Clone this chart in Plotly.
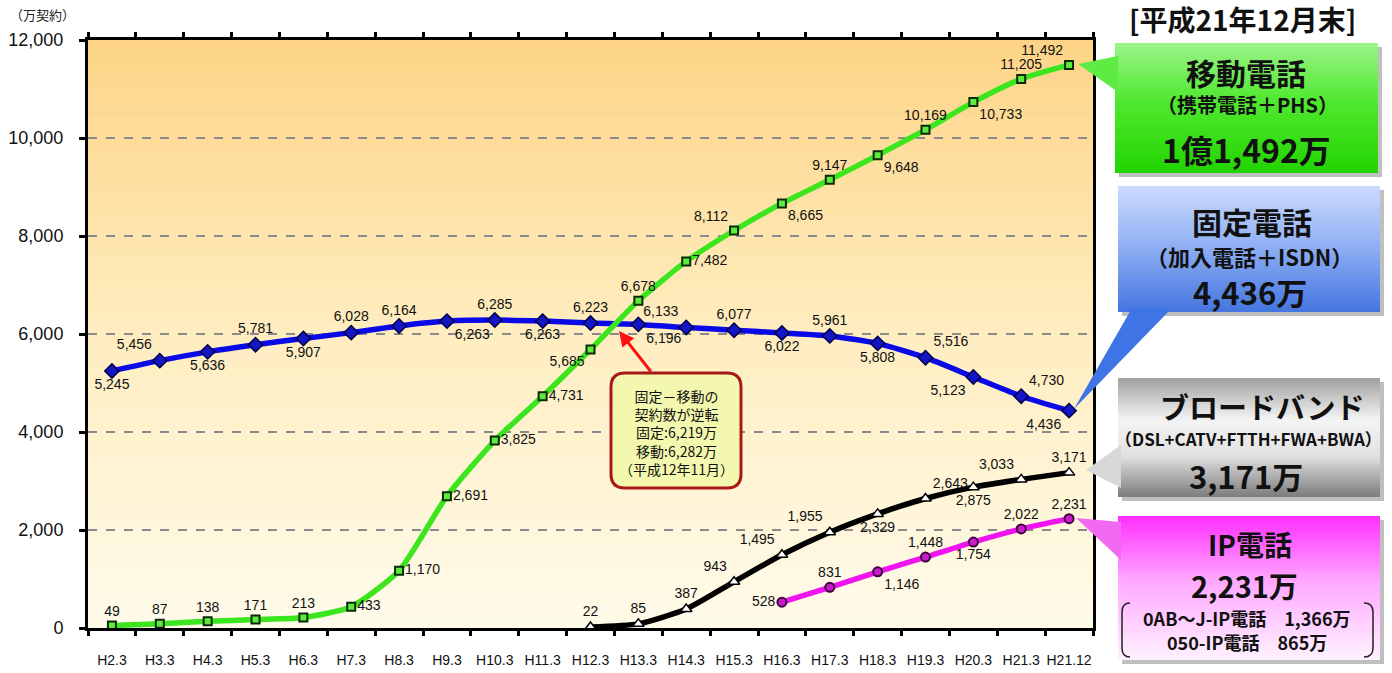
import plotly.graph_objects as go

# ---------------- data ----------------
categories = ["H2.3", "H3.3", "H4.3", "H5.3", "H6.3", "H7.3", "H8.3", "H9.3", "H10.3",
              "H11.3", "H12.3", "H13.3", "H14.3", "H15.3", "H16.3", "H17.3", "H18.3",
              "H19.3", "H20.3", "H21.3", "H21.12"]
mobile = [49, 87, 138, 171, 213, 433, 1170, 2691, 3825, 4731, 5685, 6678, 7482, 8112,
          8665, 9147, 9648, 10169, 10733, 11205, 11492]
fixed = [5245, 5456, 5636, 5781, 5907, 6028, 6164, 6263, 6285, 6263, 6223, 6196, 6133,
         6077, 6022, 5961, 5808, 5516, 5123, 4730, 4436]
broadband = [None] * 10 + [22, 85, 387, 943, 1495, 1955, 2329, 2643, 2875, 3033, 3171]
ip_phone = [None] * 14 + [528, 831, 1146, 1448, 1754, 2022, 2231]
y_ticks = [0, 2000, 4000, 6000, 8000, 10000, 12000]

# ---------------- label placement (style) ----------------
mobile_pos = ["top center"] * 5 + ["middle right"] * 5 + ["bottom left", "top center",
              "middle right", "top left", "bottom right", "top center", "bottom right",
              "top center", "bottom right", "top center", "top left"]
fixed_pos = ["bottom center", "top left", "bottom center", "top center", "bottom center",
             "top center", "top center", "bottom right", "top center", "bottom center",
             "top center", "bottom right", "top left", "top center", "bottom center",
             "top center", "bottom center", "top right", "bottom left", "top right",
             "bottom left"]
bb_pos = ["top center"] * 10 + ["top center", "top center", "top center", "top left",
          "top left", "top left", "bottom center", "top right", "bottom center",
          "top left", "top center"]
ip_pos = ["top center"] * 14 + ["middle left", "top center", "bottom right", "top center",
          "bottom center", "top center", "top center"]

W, H = 1392, 673
PL, PR, PT, PB = 88, 1093, 40, 628   # plot area in pixels

JP = "Noto Sans CJK JP, sans-serif"
NUM = "Liberation Sans, Arial, sans-serif"


def px(x):
    return (x - PL) / (PR - PL)


def py(y):
    return (PB - y) / (PB - PT)


def hex2rgb(h):
    h = h.lstrip("#")
    return tuple(int(h[i:i + 2], 16) for i in (0, 2, 4))


def interp(stops, t):
    for i in range(len(stops) - 1):
        t0, c0 = stops[i]
        t1, c1 = stops[i + 1]
        if t0 <= t <= t1:
            f = 0 if t1 == t0 else (t - t0) / (t1 - t0)
            a, b = hex2rgb(c0), hex2rgb(c1)
            return "rgb(%d,%d,%d)" % tuple(round(a[k] + (b[k] - a[k]) * f) for k in range(3))
    return stops[-1][1]


shapes = []


def grad_rect(x0, y0, x1, y1, stops, n, layer="above"):
    for i in range(n):
        ya = y0 + (y1 - y0) * i / n
        yb = y0 + (y1 - y0) * (i + 1) / n + 0.6
        shapes.append(dict(type="rect", xref="paper", yref="paper", layer=layer,
                           x0=px(x0), x1=px(x1), y0=py(min(yb, y1)), y1=py(ya),
                           line=dict(width=0), fillcolor=interp(stops, (i + 0.5) / n)))


def path_px(points_cmds):
    s = ""
    for cmd, pts in points_cmds:
        s += cmd
        s += " ".join("%.5f,%.5f" % (px(x), py(y)) for x, y in pts) + " "
    return s.strip()


def rrect_path(x0, y0, x1, y1, r):
    return path_px([
        ("M", [(x0 + r, y0)]), ("L", [(x1 - r, y0)]), ("Q", [(x1, y0), (x1, y0 + r)]),
        ("L", [(x1, y1 - r)]), ("Q", [(x1, y1), (x1 - r, y1)]), ("L", [(x0 + r, y1)]),
        ("Q", [(x0, y1), (x0, y1 - r)]), ("L", [(x0, y0 + r)]), ("Q", [(x0, y0), (x0 + r, y0)])
    ]) + " Z"


def tri(p1, p2, p3, color, layer="above"):
    shapes.append(dict(type="path", xref="paper", yref="paper", layer=layer,
                       path=path_px([("M", [p1]), ("L", [p2]), ("L", [p3])]) + " Z",
                       fillcolor=color, line=dict(width=0)))


# plot background gradient
grad_rect(PL, PT, PR, PB, [(0, "#FDD486"), (0.5, "#FFEDC0"), (1, "#FFFBEA")], 70, layer="below")

# ---------------- traces ----------------
fig = go.Figure()
fig.add_trace(go.Scatter(
    x=categories, y=fixed, mode="lines+markers+text", name="固定電話",
    line=dict(color="#0A0AE6", width=5.5, shape="spline", smoothing=0.6),
    marker=dict(symbol="diamond", size=11, color="#1515C8", line=dict(width=1.5, color="#000040")),
    texttemplate="%{y:,}", textposition=fixed_pos,
    textfont=dict(family=NUM, size=14, color="#111"), cliponaxis=False))
fig.add_trace(go.Scatter(
    x=categories, y=mobile, mode="lines+markers+text", name="移動電話",
    line=dict(color="#3CE61E", width=5.5, shape="spline", smoothing=0.6),
    marker=dict(symbol="square", size=8, color="#5EEB3C", line=dict(width=2, color="#0B2A0B")),
    texttemplate="%{y:,}", textposition=mobile_pos,
    textfont=dict(family=NUM, size=14, color="#111"), cliponaxis=False))
fig.add_trace(go.Scatter(
    x=categories, y=broadband, mode="lines+markers+text", name="ブロードバンド",
    line=dict(color="#000000", width=5.5, shape="spline", smoothing=0.6),
    marker=dict(symbol="triangle-up", size=10, color="white", line=dict(width=1.5, color="black")),
    texttemplate="%{y:,}", textposition=bb_pos,
    textfont=dict(family=NUM, size=14, color="#111"), cliponaxis=False))
fig.add_trace(go.Scatter(
    x=categories, y=ip_phone, mode="lines+markers+text", name="IP電話",
    line=dict(color="#F014F0", width=5.5, shape="spline", smoothing=0.6),
    marker=dict(symbol="circle", size=9, color="#C81EC8", line=dict(width=2, color="#400040")),
    texttemplate="%{y:,}", textposition=ip_pos,
    textfont=dict(family=NUM, size=14, color="#111"), cliponaxis=False))

annotations = []

# y-axis unit
annotations.append(dict(xref="paper", yref="paper", x=px(8), y=py(14), xanchor="left",
                        yanchor="middle", text="（万契約）", showarrow=False,
                        font=dict(family=JP, size=13, color="#222")))

# crossover note box
shapes.append(dict(type="path", xref="paper", yref="paper", layer="above",
                   path=rrect_path(611, 373, 741, 488, 14), fillcolor="#F3F8AE",
                   line=dict(color="#A81818", width=3)))
annotations.append(dict(xref="paper", yref="paper", x=px(619), y=py(331), ax=33, ay=42,
                        axref="pixel", ayref="pixel", text="", showarrow=True,
                        arrowhead=2, arrowsize=1, arrowwidth=3, arrowcolor="#FF1010"))
annotations.append(dict(xref="paper", yref="paper", x=px(676), y=py(432),
                        xanchor="center", yanchor="middle",
                        text="固定－移動の<br>契約数が逆転<br>固定:6,219万<br>移動:6,282万<br>（平成12年11月）",
                        showarrow=False, align="center",
                        font=dict(family=JP, size=14, color="#111")))

# title at right
annotations.append(dict(xref="paper", yref="paper", x=px(1242), y=py(19),
                        xanchor="center", yanchor="middle",
                        text="<b>[平成21年12月末]</b>", showarrow=False,
                        font=dict(family=JP, size=28, color="#111")))

# callout boxes: (x0, y0, x1, y1, stops, tail triangle, tail color)
boxes = [
    (1115, 43, 1378, 173, [(0, "#9AF588"), (0.45, "#4FE82F"), (1, "#22D400")],
     ((1118, 56), (1118, 92), (1078, 64)), "#5EEB44"),
    (1118, 186, 1380, 312, [(0, "#CCDAFF"), (0.45, "#93B2F4"), (1, "#4475E0")],
     ((1132, 308), (1172, 308), (1074, 409)), "#3F74E6"),
    (1118, 378, 1380, 497, [(0, "#A0A0A0"), (0.35, "#F4F4F4"), (0.65, "#E2E2E2"), (1, "#7C7C7C")],
     ((1121, 445), (1121, 488), (1086, 470)), "#D8D8D8"),
    (1118, 516, 1380, 660, [(0, "#FF2EFF"), (0.45, "#FFA8FF"), (1, "#FFF2FF")],
     ((1121, 522), (1121, 560), (1076, 518)), "#F26AF2"),
]
for x0, y0, x1, y1, stops, t, tc in boxes:
    shapes.append(dict(type="rect", xref="paper", yref="paper", layer="above",
                       x0=px(x0 + 4), x1=px(x1 + 4), y0=py(y1 + 4), y1=py(y0 + 4),
                       fillcolor="rgba(0,0,0,0.25)", line=dict(width=0)))
    grad_rect(x0, y0, x1, y1, stops, 40)
    tri(t[0], t[1], t[2], tc)

# brackets in IP box
shapes.append(dict(type="path", xref="paper", yref="paper", layer="above",
                   path=path_px([("M", [(1130, 603)]), ("Q", [(1122, 603), (1122, 612)]),
                                 ("L", [(1122, 648)]), ("Q", [(1122, 657), (1130, 657)])]),
                   line=dict(color="#222", width=1.5)))
shapes.append(dict(type="path", xref="paper", yref="paper", layer="above",
                   path=path_px([("M", [(1364, 603)]), ("Q", [(1373, 603), (1373, 612)]),
                                 ("L", [(1373, 648)]), ("Q", [(1373, 657), (1364, 657)])]),
                   line=dict(color="#222", width=1.5)))

box_texts = [
    (1246, 72, "<b>移動電話</b>", 30),
    (1247, 105, "<b>（携帯電話＋PHS）</b>", 20),
    (1246, 149, "<b>1億1,492万</b>", 32),
    (1252, 221, "<b>固定電話</b>", 30),
    (1249, 256, "<b>（加入電話＋ISDN）</b>", 22),
    (1250, 291, "<b>4,436万</b>", 31),
    (1262, 406, "<b>ブロードバンド</b>", 29),
    (1248, 438, "<b>（DSL+CATV+FTTH+FWA+BWA）</b>", 17),
    (1246, 475, "<b>3,171万</b>", 31),
    (1250, 544, "<b>IP電話</b>", 28),
    (1244, 585, "<b>2,231万</b>", 29),
    (1247, 618, "<b>0AB～J-IP電話　1,366万</b>", 18),
    (1247, 642, "<b>050-IP電話　865万</b>", 18),
]
for x, y, t, s in box_texts:
    annotations.append(dict(xref="paper", yref="paper", x=px(x), y=py(y), text=t,
                            xanchor="center", yanchor="middle",
                            showarrow=False, font=dict(family=JP, size=s, color="#111")))

fig.update_layout(
    width=W, height=H, autosize=False,
    margin=dict(l=PL, r=W - PR, t=PT, b=H - PB, pad=0),
    paper_bgcolor="white", plot_bgcolor="rgba(0,0,0,0)",
    showlegend=False, shapes=shapes, annotations=annotations,
    xaxis=dict(type="category", range=[-0.5, 20.5], tickson="boundaries",
               ticks="outside", ticklen=5, tickwidth=3, tickcolor="black",
               showline=True, linecolor="black", linewidth=3, mirror="ticks",
               showgrid=False, ticklabelstandoff=17, tickangle=0, automargin=False,
               tickfont=dict(family=NUM, size=14, color="#111")),
    yaxis=dict(range=[0, 12000], tickvals=y_ticks, tickformat=",",
               ticks="outside", ticklen=6, tickwidth=3, tickcolor="black",
               showline=True, linecolor="black", linewidth=3, mirror=True,
               showgrid=True, gridcolor="#8A8A8A", gridwidth=1.5, griddash="dash",
               zeroline=False, ticklabelstandoff=12, automargin=False,
               tickfont=dict(family=NUM, size=18, color="#111")),
)

fig.write_html("out.html")
